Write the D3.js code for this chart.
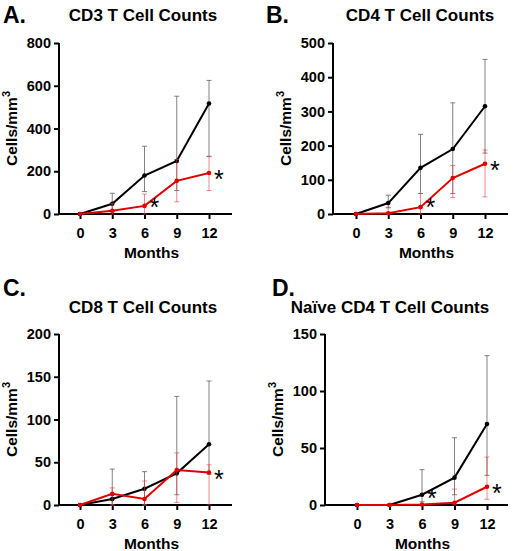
<!DOCTYPE html>
<html>
<head>
<meta charset="utf-8">
<script src="https://cdn.jsdelivr.net/npm/d3@7"></script>
<style>
body{margin:0;background:#fff;font-family:"Liberation Sans",Arial,sans-serif;font-weight:bold}
</style>
</head>
<body>
<svg id="c" width="520" height="551"></svg>
<script>
var months = [0, 3, 6, 9, 12];

// per panel: black mean/lower/upper, red mean/lower/upper
var titles = ["CD3 T Cell Counts", "CD4 T Cell Counts", "CD8 T Cell Counts", "Naïve CD4 T Cell Counts"];
var letters = ["A.", "B.", "C.", "D."];
var yMax = [800, 500, 200, 150];
var yStep = [200, 100, 50, 50];

var blackMean = [[0,48,180,248,517],[0,32,135,190,315],[0,7,19,37,71],[0,0,9,24,71]];
var blackLow  = [[0,10,105,110,270],[0,18,60,60,178],[0,0,0,12,36],[0,0,0,9,26]];
var blackHigh = [[0,97,317,551,625],[0,55,233,325,452],[0,42,39,127,145],[0,0,31,59,131]];
var redMean = [[0,15,38,155,192],[0,2,20,105,147],[0,13,7,41,38],[0,0,0.5,2,16]];
var redLow  = [[0,0,0,57,110],[0,0,0,48,50],[0,0,0,3,0],[0,0,0,0,5]];
var redHigh = [[0,50,93,255,268],[0,20,60,142,187],[0,20,28,61,47],[0,0,3,14,42]];
var stars = [[6,12],[6,12],[12],[6,12]];

// layout per panel
var lay = [
  {ax:59, x0:80, x1:209, xe:232, yt:43, yb:214, tx:143, ty:21, lx:3, ly:23},
  {ax:333, x0:356, x1:485, xe:508, yt:43, yb:214, tx:420, ty:21, lx:266, ly:23},
  {ax:59, x0:80, x1:209, xe:232, yt:334, yb:505, tx:143, ty:313, lx:3, ly:296},
  {ax:325, x0:357, x1:487, xe:508, yt:334, yb:505, tx:390, ty:313, lx:272, ly:296}
];

var svg = d3.select("#c");

lay.forEach(function(L, p) {
  var g = svg.append("g");
  var x = d3.scaleLinear().domain([0, 12]).range([L.x0, L.x1]);
  var y = d3.scaleLinear().domain([0, yMax[p]]).range([L.yb, L.yt]);

  g.append("text").attr("x", L.lx).attr("y", L.ly).attr("font-size", 23).text(letters[p]);
  g.append("text").attr("x", L.tx).attr("y", L.ty).attr("text-anchor", "middle")
    .attr("font-size", 17).text(titles[p]);

  var yAxis = g.append("g").attr("transform", "translate(" + L.ax + ",0)")
    .call(d3.axisLeft(y).tickValues(d3.range(0, yMax[p] + 1, yStep[p])).tickSize(5).tickPadding(3));
  yAxis.select(".domain").attr("d", "M0," + L.yt + "V" + L.yb);

  var xAxis = g.append("g").attr("transform", "translate(0," + L.yb + ")")
    .call(d3.axisBottom(x).tickValues(months).tickSize(5).tickPadding(9));
  xAxis.select(".domain").attr("d", "M" + L.ax + ",0H" + L.xe);

  [yAxis, xAxis].forEach(function(a) {
    a.selectAll("path,line").attr("stroke", "#000").attr("stroke-width", 2);
    a.selectAll("text").attr("font-size", 14.5).attr("font-weight", "bold")
      .attr("font-family", "Liberation Sans, Arial, sans-serif").attr("fill", "#000");
  });

  g.append("text").attr("x", (L.ax + L.xe) / 2 + 6).attr("y", L.yb + 44)
    .attr("text-anchor", "middle").attr("font-size", 15.5).text("Months");

  var yl = g.append("text").attr("transform", "translate(" + (L.ax - 42) + "," + ((L.yt + L.yb) / 2) + ") rotate(-90)")
    .attr("text-anchor", "middle").attr("font-size", 15.5);
  yl.append("tspan").text("Cells/mm");
  yl.append("tspan").attr("dy", -7).attr("font-size", 11).text("3");

  function series(mean, low, high, col, errCol) {
    var d = months.map(function(m, i) { return {m: m, v: mean[i], lo: low[i], hi: high[i]}; });
    var eb = g.append("g").attr("stroke", errCol).attr("stroke-width", 1);
    d.forEach(function(e) {
      if (e.hi === e.lo) return;
      eb.append("line").attr("x1", x(e.m)).attr("x2", x(e.m)).attr("y1", y(e.lo)).attr("y2", y(e.hi));
      [e.lo, e.hi].forEach(function(v) {
        eb.append("line").attr("x1", x(e.m) - 2.5).attr("x2", x(e.m) + 2.5).attr("y1", y(v)).attr("y2", y(v));
      });
    });
    g.append("path").datum(d).attr("fill", "none").attr("stroke", col).attr("stroke-width", 2)
      .attr("d", d3.line().x(function(e) { return x(e.m); }).y(function(e) { return y(e.v); }));
    g.selectAll(null).data(d).enter().append("circle")
      .attr("cx", function(e) { return x(e.m); }).attr("cy", function(e) { return y(e.v); })
      .attr("r", 2.3).attr("fill", col);
  }
  series(blackMean[p], blackLow[p], blackHigh[p], "#000", "rgba(90,90,90,0.75)");
  series(redMean[p], redLow[p], redHigh[p], "#e00000", "rgba(230,60,60,0.6)");

  stars[p].forEach(function(m) {
    var i = months.indexOf(m);
    g.append("text").attr("x", x(m) + 5).attr("y", Math.min(y(redMean[p][i]) + 15, L.yb + 2))
      .attr("font-size", 25).attr("font-weight", "normal").text("*");
  });
});
</script>
</body>
</html>
